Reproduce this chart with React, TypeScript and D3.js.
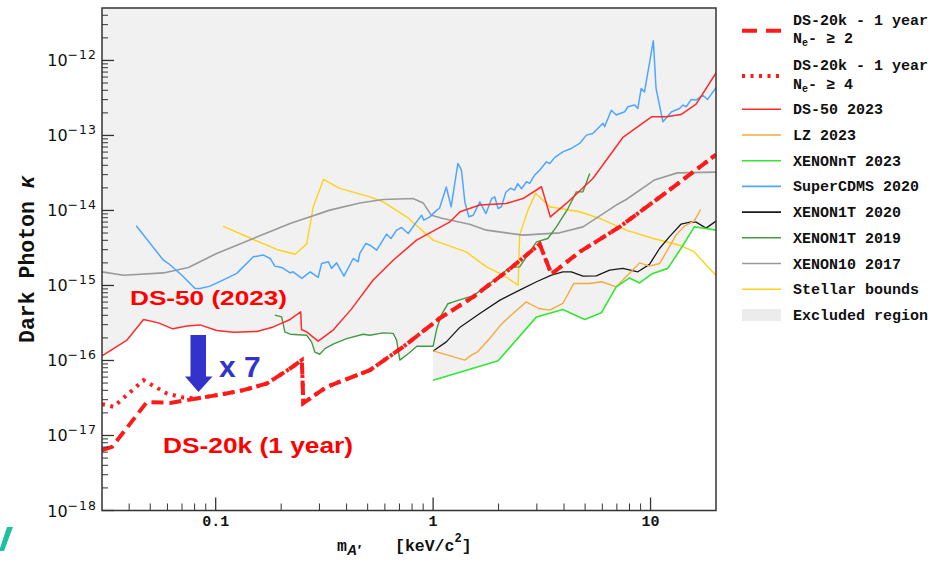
import * as d3 from "d3";

type Pt = [number, number];

// mass [keV/c^2], kinetic mixing
const ds20kNe2: Pt[] = [
  [0.03, 6.37e-18], [0.0334, 7.05e-18], [0.0483, 2.8e-17], [0.0618, 2.72e-17],
  [0.0819, 3.11e-17], [0.112, 3.63e-17], [0.134, 4.02e-17], [0.172, 4.93e-17],
  [0.22, 7.82e-17], [0.249, 1.01e-16], [0.253, 2.7e-17], [0.324, 4.45e-17],
  [0.512, 7.43e-17], [0.728, 1.52e-16], [1.07, 3.63e-16], [1.53, 7.05e-16],
  [2.17, 1.52e-15], [3.09, 3.56e-15], [3.5, 1.42e-15], [4.72, 2.8e-15],
  [7.21, 6.04e-15], [12.2, 1.87e-14], [20, 5.55e-14],
];

const ds20kNe4: Pt[] = [
  [0.03, 2.62e-17], [0.0339, 2.41e-17], [0.0466, 5.46e-17], [0.0596, 3.63e-17],
  [0.0711, 3.2e-17],
  ...ds20kNe2.slice(4),
];

const ds50: Pt[] = [
  [0.03, 1.15e-16], [0.0391, 1.87e-16], [0.0466, 3.52e-16], [0.0545, 3.17e-16],
  [0.0635, 2.64e-16], [0.0737, 2.89e-16], [0.0847, 2.98e-16], [0.101, 2.51e-16],
  [0.121, 2.38e-16], [0.155, 2.44e-16], [0.184, 2.8e-16], [0.22, 3.52e-16],
  [0.246, 4.45e-16], [0.248, 2.59e-16], [0.262, 2.41e-16], [0.296, 1.81e-16],
  [0.347, 2.54e-16], [0.42, 4.8e-16], [0.53, 1.18e-15], [0.655, 2.17e-15],
  [0.839, 4.02e-15], [1.19, 6.98e-15], [1.33, 9.6e-15], [1.64, 1.18e-14],
  [2.17, 1.24e-14], [2.59, 1.44e-14], [3.15, 2.07e-14], [3.46, 8.2e-15],
  [4.1, 1.24e-14], [5.43, 2.67e-14], [7.46, 9.4e-14], [10.1, 1.77e-13],
  [11.8, 1.77e-13], [13.8, 1.9e-13], [16.2, 2.61e-13], [20, 6.8e-13],
];

const lz2023: Pt[] = [
  [1.0, 1.34e-16], [1.4, 1.01e-16], [1.5, 1.18e-16], [1.6, 1.3e-16],
  [1.82, 1.96e-16], [2.06, 3.05e-16], [2.33, 4.23e-16], [2.68, 6.04e-16],
  [3.06, 4.93e-16], [3.44, 4.69e-16], [3.95, 5.75e-16], [4.43, 1.06e-15],
  [5.25, 1.06e-15], [5.96, 1.12e-15], [6.95, 9.6e-16], [8.01, 1.45e-15],
  [8.91, 2.0e-15], [9.89, 1.81e-15], [11.0, 1.96e-15], [12.2, 3.27e-15],
  [13.1, 4.69e-15], [14.3, 6.18e-15], [15.9, 7.26e-15], [17.0, 1.03e-14],
];

const xenonnt2023: Pt[] = [
  [1.0, 5.46e-17], [1.99, 9.9e-17], [2.99, 3.81e-16], [3.95, 4.79e-16],
  [4.98, 3.52e-16], [5.94, 4.32e-16], [6.95, 9.6e-16], [8.01, 1.26e-15],
  [8.91, 1.08e-15], [10.1, 1.42e-15], [12.0, 1.69e-15], [13.8, 3.11e-15],
  [15.9, 6.04e-15], [18, 5.75e-15], [20, 5.46e-15],
];

const superCdms: Pt[] = [
  [0.0431, 6.24e-15], [0.0575, 2.17e-15], [0.0607, 1.96e-15], [0.0699, 1.37e-15],
  [0.0804, 9.1e-16], [0.0847, 9.1e-16], [0.0942, 9.8e-16], [0.108, 1.18e-15],
  [0.125, 1.45e-15], [0.149, 2.41e-15], [0.166, 2.54e-15], [0.178, 2.29e-15],
  [0.187, 1.81e-15], [0.201, 1.74e-15], [0.22, 1.47e-15], [0.227, 1.52e-15],
  [0.249, 1.24e-15], [0.272, 1.52e-15], [0.296, 1.28e-15], [0.307, 1.96e-15],
  [0.33, 2.07e-15], [0.341, 1.69e-15], [0.36, 2.0e-15], [0.389, 1.33e-15],
  [0.429, 2.29e-15], [0.452, 2.07e-15], [0.46, 2.67e-15], [0.491, 3.63e-15],
  [0.512, 3.44e-15], [0.55, 2.96e-15], [0.611, 4.83e-15], [0.64, 4.23e-15],
  [0.679, 5.46e-15], [0.716, 5.93e-15], [0.768, 4.93e-15], [0.839, 7.05e-15],
  [0.885, 8.65e-15], [0.906, 7.43e-15], [0.966, 8.22e-15], [1.04, 1.01e-14],
  [1.07, 1.07e-14], [1.15, 2.05e-14], [1.21, 1.12e-14], [1.3, 4.23e-14],
  [1.35, 3.44e-14], [1.4, 1.29e-14], [1.46, 8.26e-15], [1.53, 8.65e-15],
  [1.64, 1.3e-14], [1.75, 9.1e-15], [1.86, 1.44e-14], [1.92, 1.52e-14],
  [1.99, 1.06e-14], [2.06, 1.12e-14], [2.16, 1.75e-14], [2.27, 1.98e-14],
  [2.37, 1.87e-14], [2.45, 2.28e-14], [2.55, 1.95e-14], [2.69, 2.41e-14],
  [2.78, 2.3e-14], [2.93, 2.96e-14], [3.09, 3.44e-14], [3.32, 4.45e-14],
  [3.44, 4.23e-14], [3.62, 5.06e-14], [3.95, 6.04e-14], [4.32, 6.71e-14],
  [4.72, 7.82e-14], [5.07, 1.01e-13], [5.43, 1.06e-13], [6.04, 1.45e-13],
  [6.15, 1.31e-13], [6.6, 2.17e-13], [6.95, 1.87e-13], [7.6, 2.07e-13],
  [7.87, 2.41e-13], [8.44, 2.54e-13], [8.74, 2.29e-13], [9.06, 4.23e-13],
  [9.38, 3.81e-13], [10.3, 1.83e-12], [10.6, 4.23e-13], [11.4, 1.52e-13],
  [12.5, 2.07e-13], [13.6, 2.29e-13], [14.1, 2.54e-13], [14.6, 2.41e-13],
  [15.4, 3.02e-13], [16.2, 2.96e-13], [17.4, 3.44e-13], [18.3, 3.02e-13],
  [20, 4.32e-13],
];

const xenon1t2020: Pt[] = [
  [1.0, 1.34e-16], [1.15, 1.77e-16], [1.33, 2.78e-16], [1.64, 4.23e-16],
  [2.03, 6.37e-16], [2.5, 8.65e-16], [2.99, 1.12e-15], [3.5, 1.37e-15],
  [3.95, 1.52e-15], [4.32, 1.52e-15], [4.89, 1.33e-15], [5.63, 1.34e-15],
  [6.48, 1.6e-15], [7.46, 1.69e-15], [8.74, 1.52e-15], [9.89, 1.91e-15],
  [11.0, 3.11e-15], [12.2, 4.45e-15], [13.8, 6.56e-15], [15.4, 7.05e-15],
  [16.2, 6.98e-15], [18, 5.81e-15], [20, 7.2e-15],
];

const xenon1t2019: Pt[] = [
  [0.187, 4.02e-16], [0.201, 3.81e-16], [0.208, 2.41e-16], [0.22, 2.24e-16],
  [0.262, 2.17e-16], [0.276, 1.77e-16], [0.286, 1.29e-16], [0.301, 1.21e-16],
  [0.318, 1.44e-16], [0.347, 1.65e-16], [0.4, 1.96e-16], [0.477, 2.24e-16],
  [0.512, 2.17e-16], [0.589, 2.33e-16], [0.655, 2.3e-16], [0.679, 1.87e-16],
  [0.703, 1.01e-16], [0.773, 1.25e-16], [0.842, 1.55e-16], [1.0, 1.55e-16],
  [1.04, 2.65e-16], [1.09, 4.02e-16], [1.17, 5.71e-16], [1.28, 6.23e-16],
  [1.53, 7.31e-16], [1.7, 9.1e-16], [1.95, 1.24e-15], [2.25, 1.74e-15],
  [2.5, 1.77e-15], [2.99, 3.81e-15], [3.37, 4.23e-15], [3.69, 6.04e-15],
  [4.17, 1.06e-14], [4.56, 1.77e-14], [4.89, 1.77e-14], [5.25, 3.11e-14],
];

const xenon10: Pt[] = [
  [0.03, 1.52e-15], [0.0377, 1.37e-15], [0.0575, 1.47e-15], [0.0749, 1.74e-15],
  [0.101, 2.67e-15], [0.149, 4.23e-15], [0.22, 6.71e-15], [0.335, 1.01e-14],
  [0.46, 1.26e-14], [0.589, 1.4e-14], [0.809, 1.44e-14], [0.9, 1.26e-14],
  [0.98, 8.65e-15], [1.11, 7.82e-15], [1.47, 6.56e-15], [1.76, 5.46e-15],
  [2.59, 4.69e-15], [3.82, 5.03e-15], [4.89, 6.04e-15], [6.95, 1.18e-14],
  [7.73, 1.4e-14], [10.4, 2.54e-14], [13.3, 3.17e-14], [20, 3.24e-14],
];

const stellarBounds: Pt[] = [
  [0.108, 6.18e-15], [0.149, 4.1e-15], [0.191, 3.02e-15], [0.232, 2.61e-15],
  [0.262, 3.56e-15], [0.281, 1.12e-14], [0.313, 2.59e-14], [0.372, 1.97e-14],
  [0.512, 1.52e-14], [0.589, 1.3e-14], [0.755, 8.22e-15], [1.0, 4.02e-15],
  [1.42, 2.8e-15], [1.76, 1.77e-15], [2.1, 1.37e-15], [2.46, 1.01e-15],
  [2.5, 4.69e-15], [2.73, 1.01e-14], [2.96, 1.69e-14], [3.44, 1.12e-14],
  [4.72, 9.6e-15], [5.83, 7.82e-15], [7.73, 5.46e-15], [10.3, 4.23e-15],
  [13.6, 3.44e-15], [15.9, 2.8e-15], [18, 1.87e-15], [20, 1.37e-15],
];

const xTickLabels = [0.1, 1, 10];
const yDecades = [-18, -17, -16, -15, -14, -13, -12];

const X0 = 102, X1 = 716, Y0 = 8, Y1 = 510.5;
const x = d3.scaleLog().domain([0.03, 20]).range([X0, X1]);
const y = d3.scaleLog().domain([1e-18, 5e-12]).range([Y1, Y0]);

const MONO = "'Liberation Mono', 'Courier New', monospace";
const SANS = "'Liberation Sans', Arial, sans-serif";
const DEJAVU = "'DejaVu Sans', sans-serif";
const RED = "#ff1a1a";

const curves = [
  { name: "Stellar bounds", data: stellarBounds, color: "#ffd11a", w: 1.4 },
  { name: "XENON10 2017", data: xenon10, color: "#9a9a9a", w: 1.6 },
  { name: "SuperCDMS 2020", data: superCdms, color: "#4da6ff", w: 1.5 },
  { name: "XENON1T 2019", data: xenon1t2019, color: "#449944", w: 1.4 },
  { name: "XENON1T 2020", data: xenon1t2020, color: "#1a1a1a", w: 1.3 },
  { name: "LZ 2023", data: lz2023, color: "#f7a93c", w: 1.4 },
  { name: "XENONnT 2023", data: xenonnt2023, color: "#33e633", w: 1.6 },
  { name: "DS-50 2023", data: ds50, color: "#ff2a2a", w: 1.5 },
];

const legendSingles = [
  "DS-50 2023", "LZ 2023", "XENONnT 2023", "SuperCDMS 2020",
  "XENON1T 2020", "XENON1T 2019", "XENON10 2017", "Stellar bounds",
];

// lower edge of the excluded region = lowest existing limit
const envelopeSeries = [ds50, lz2023, xenonnt2023, superCdms, xenon1t2020, xenon1t2019, xenon10];

function interpLog(s: Pt[], v: number): number | null {
  if (v < s[0][0] || v > s[s.length - 1][0]) return null;
  for (let i = 0; i < s.length - 1; i++) {
    const [xa, ya] = s[i];
    const [xb, yb] = s[i + 1];
    if (v >= xa && v <= xb) {
      const t = (Math.log(v) - Math.log(xa)) / (Math.log(xb) - Math.log(xa));
      return Math.log(ya) + t * (Math.log(yb) - Math.log(ya));
    }
  }
  return Math.log(s[s.length - 1][1]);
}

function excludedPoints(): Pt[] {
  const xs: number[] = d3.range(0, 801).map((i) => 0.03 * Math.pow(20 / 0.03, i / 800));
  envelopeSeries.forEach((s) =>
    s.forEach((p) => xs.push(p[0], p[0] * (1 - 1e-6), p[0] * (1 + 1e-6)))
  );
  const sorted = xs.filter((v) => v >= 0.03 && v <= 20).sort((a, b) => a - b);
  const pts: Pt[] = [[0.03, 5e-12]];
  sorted.forEach((v) => {
    let m = Infinity;
    envelopeSeries.forEach((s) => {
      const l = interpLog(s, v);
      if (l !== null && l < m) m = l;
    });
    if (m < Infinity) pts.push([v, Math.exp(m)]);
  });
  pts.push([20, 5e-12]);
  return pts;
}

export default function App() {
  const line = d3.line<Pt>().x((d) => x(d[0])).y((d) => y(d[1]));
  const excl = excludedPoints();

  const yMinor: number[] = [];
  for (let k = -18; k <= -12; k++)
    for (let m = 2; m <= 9; m++) {
      const v = m * Math.pow(10, k);
      if (v < 5e-12) yMinor.push(v);
    }
  const xMinor: number[] = [];
  for (let k = -2; k <= 1; k++)
    for (let m = 2; m <= 9; m++) {
      const v = m * Math.pow(10, k);
      if (v > 0.03 && v < 20) xMinor.push(v);
    }

  const LX0 = 742, LX1 = 781, LT = 793;

  return (
    <svg width={935} height={563} style={{ position: "absolute", left: 0, top: 0, background: "#fff" }}>
      <defs>
        <clipPath id="plot">
          <rect x={X0} y={Y0} width={X1 - X0} height={Y1 - Y0} />
        </clipPath>
      </defs>

      <g clipPath="url(#plot)">
        <path d={line(excl) || ""} fill="#f1f1f1" stroke="none" />
        {curves.map((c) => (
          <path key={c.name} d={line(c.data) || ""} fill="none" stroke={c.color} strokeWidth={c.w} strokeLinejoin="round" />
        ))}
        <path d={line(ds20kNe2) || ""} fill="none" stroke={RED} strokeWidth={4} strokeDasharray="12 6" />
        <path d={line(ds20kNe4) || ""} fill="none" stroke={RED} strokeWidth={4} strokeDasharray="3 5.5" />
      </g>

      {/* frame and ticks */}
      <rect x={X0} y={Y0} width={X1 - X0} height={Y1 - Y0} fill="none" stroke="#333" strokeWidth={1.5} />
      {yDecades.map((k) => (
        <line key={"yM" + k} x1={X0} x2={X0 + 12} y1={y(Math.pow(10, k))} y2={y(Math.pow(10, k))} stroke="#333" strokeWidth={1.3} />
      ))}
      {yMinor.map((v) => (
        <line key={"ym" + v} x1={X0} x2={X0 + 6} y1={y(v)} y2={y(v)} stroke="#333" strokeWidth={1} />
      ))}
      {xTickLabels.map((v) => (
        <line key={"xM" + v} x1={x(v)} x2={x(v)} y1={Y1} y2={Y1 - 13} stroke="#333" strokeWidth={1.3} />
      ))}
      {xMinor.map((v) => (
        <line key={"xm" + v} x1={x(v)} x2={x(v)} y1={Y1} y2={Y1 - 7} stroke="#333" strokeWidth={1} />
      ))}

      {yDecades.map((k) => (
        <text key={"yl" + k} x={97} y={y(Math.pow(10, k)) + 6} textAnchor="end" fontFamily={DEJAVU} fill="#111">
          <tspan fontSize={16}>10</tspan>
          <tspan fontSize={12.5} dy={-7} letterSpacing={1}>{"\u2212" + Math.abs(k)}</tspan>
        </text>
      ))}
      {xTickLabels.map((v) => (
        <text key={"xl" + v} x={x(v)} y={526} textAnchor="middle" fontFamily={MONO} fontWeight="bold" fontSize={15} fill="#111">
          {String(v)}
        </text>
      ))}

      {/* axis titles */}
      <text transform="translate(34,343) rotate(-90)" fontFamily={MONO} fontWeight="bold" fontSize={21.5} fill="#111">
        Dark Photon <tspan fontStyle="italic" fontFamily={SANS}>κ</tspan>
      </text>
      <text x={337} y={551} fontFamily={MONO} fontWeight="bold" fontSize={16.5} fill="#111">
        m
        <tspan fontFamily={SANS} fontStyle="italic" fontSize={14} dy={4}>A′</tspan>
        <tspan x={395} dy={-4}>[keV/c</tspan>
        <tspan fontSize={12} dy={-9}>2</tspan>
        <tspan dy={9}>]</tspan>
      </text>

      {/* annotations */}
      <text x={130} y={305} fontFamily={SANS} fontWeight="bold" fontSize={21} fill="#ff0000" textLength={157} lengthAdjust="spacingAndGlyphs">
        DS-50 (2023)
      </text>
      <text x={163} y={453} fontFamily={SANS} fontWeight="bold" fontSize={22} fill="#ff0000" textLength={190} lengthAdjust="spacingAndGlyphs">
        DS-20k (1 year)
      </text>
      <text x={219} y={377} fontFamily={SANS} fontWeight="bold" fontSize={30} fill="#3333cc">x 7</text>
      <rect x={190.5} y={335} width={15.5} height={42} fill="#3333cc" />
      <polygon points="185,376.5 212.5,376.5 198.5,392" fill="#3333cc" />
      <polygon points="7,527 13,527 4,551 -1,551" fill="#1fbf9f" />

      {/* legend */}
      <g fontFamily={MONO} fontWeight="bold" fontSize={15} fill="#111">
        <line x1={LX0} x2={LX1} y1={30.7} y2={30.7} stroke={RED} strokeWidth={4} strokeDasharray="15 9" />
        <text x={LT} y={25}>DS-20k - 1 year</text>
        <text x={LT} y={43}>N<tspan fontSize={10} dy={3}>e</tspan><tspan dy={-3}>- ≥ 2</tspan></text>
        <line x1={LX0} x2={LX1} y1={76} y2={76} stroke={RED} strokeWidth={4} strokeDasharray="3 5.5" />
        <text x={LT} y={70}>DS-20k - 1 year</text>
        <text x={LT} y={89}>N<tspan fontSize={10} dy={3}>e</tspan><tspan dy={-3}>- ≥ 4</tspan></text>
        {legendSingles.map((name, i) => {
          const c = curves.find((d) => d.name === name)!;
          const ly = 109.3 + i * 25.7;
          return (
            <g key={name}>
              <line x1={LX0} x2={LX1} y1={ly} y2={ly} stroke={c.color} strokeWidth={1.6} />
              <text x={LT} y={ly + 5}>{name}</text>
            </g>
          );
        })}
        <rect x={LX0} y={309} width={LX1 - LX0} height={12} fill="#ececec" />
        <text x={LT} y={320}>Excluded region</text>
      </g>
    </svg>
  );
}
